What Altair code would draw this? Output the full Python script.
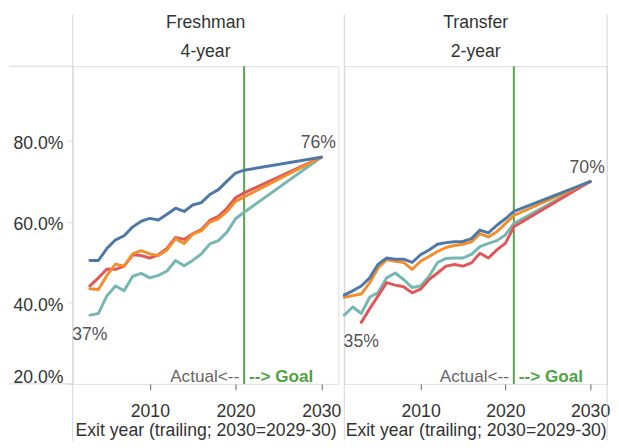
import altair as alt
import pandas as pd

FONT = "Liberation Sans"

# ---------------- data ----------------
series_names = ["Series A", "Series B", "Series C", "Series D"]   # drawn bottom -> top
series_colors = ["#76b7b2", "#e15759", "#f28e2b", "#4e79a7"]

# Freshman, 4-year (actual exit years)
fresh_years = [2003, 2004, 2005, 2006, 2007, 2008, 2009, 2010, 2011, 2012,
               2013, 2014, 2015, 2016, 2017, 2018, 2019, 2020, 2021]
fresh_teal = [0.370, 0.374, 0.418, 0.442, 0.430, 0.466, 0.473, 0.462, 0.468, 0.479,
              0.505, 0.492, 0.505, 0.521, 0.546, 0.554, 0.575, 0.608, 0.624]
fresh_red = [0.442, 0.462, 0.484, 0.483, 0.491, 0.519, 0.517, 0.511, 0.519, 0.535,
             0.562, 0.557, 0.571, 0.581, 0.604, 0.614, 0.634, 0.660, 0.672]
fresh_orange = [0.435, 0.433, 0.468, 0.496, 0.491, 0.521, 0.529, 0.521, 0.517, 0.531,
                0.559, 0.547, 0.570, 0.578, 0.600, 0.608, 0.626, 0.651, 0.662]
fresh_blue = [0.505, 0.505, 0.535, 0.556, 0.566, 0.588, 0.602, 0.609, 0.605, 0.619,
              0.634, 0.626, 0.642, 0.648, 0.668, 0.680, 0.701, 0.721, 0.728]
fresh_goal = 0.76

# Transfer, 2-year
transfer_years = [2001, 2002, 2003, 2004, 2005, 2006, 2007, 2008, 2009, 2010, 2011,
                  2012, 2013, 2014, 2015, 2016, 2017, 2018, 2019, 2020, 2021]
transfer_red_years = [2003, 2004, 2005, 2006, 2007, 2008, 2009, 2010, 2011, 2012,
                      2013, 2014, 2015, 2016, 2017, 2018, 2019, 2020, 2021]
transfer_teal = [0.370, 0.390, 0.374, 0.414, 0.426, 0.462, 0.474, 0.458, 0.438, 0.442, 0.466,
                 0.500, 0.510, 0.511, 0.511, 0.520, 0.539, 0.547, 0.554, 0.568, 0.596]
transfer_red = [0.352, 0.386, 0.418, 0.450, 0.444, 0.440, 0.425, 0.434, 0.458, 0.474,
                0.491, 0.495, 0.491, 0.499, 0.523, 0.511, 0.531, 0.547, 0.588]
transfer_orange = [0.414, 0.418, 0.422, 0.450, 0.487, 0.507, 0.503, 0.500, 0.483, 0.503, 0.515,
                   0.527, 0.537, 0.542, 0.545, 0.551, 0.571, 0.563, 0.576, 0.596, 0.616]
transfer_blue = [0.420, 0.430, 0.442, 0.462, 0.496, 0.511, 0.508, 0.508, 0.500, 0.519, 0.531,
                 0.545, 0.549, 0.551, 0.552, 0.559, 0.580, 0.573, 0.592, 0.608, 0.626]
transfer_goal = 0.70

goal_year = 2030
split_year = 2021
x_ticks = [2010, 2020, 2030]
y_ticks = [0.2, 0.4, 0.6, 0.8]
x_title = "Exit year (trailing; 2030=2029-30)"
annot_y = 0.217

fresh_min = {"year": [2003], "rate": [0.370], "label": ["37%"]}
fresh_max = {"year": [2030], "rate": [0.760], "label": ["76%"]}
transfer_min = {"year": [2003], "rate": [0.352], "label": ["35%"]}
transfer_max = {"year": [2030], "rate": [0.700], "label": ["70%"]}

# ---------------- layout ----------------
W_L, W_R, H = 271, 268, 324
HEAD, FOOT, YAX = 58, 58, 65
RULE_TOP = HEAD - 5
TITLE_GAP = 5
TOP_PAD = 1
X_DOMAIN = [2001, 2032]
Y_DOMAIN = [0.2, 0.985]
GREEN = "#59a14f"
BORDER = "#d4d4d4"
FS = 18


def make_df(years_list, values_list, goal_value):
    rows = []
    for name, yrs, vals in zip(series_names, years_list, values_list):
        for yr, v in zip(yrs, vals):
            rows.append({"series": name, "year": yr, "rate": v})
        rows.append({"series": name, "year": goal_year, "rate": goal_value})
    return pd.DataFrame(rows)


def panel(df, title_lines, width, min_lab, max_lab, first):
    xenc = alt.X(
        "year:Q",
        scale=alt.Scale(domain=X_DOMAIN, nice=False, zero=False),
        axis=alt.Axis(values=x_ticks, format="d", title=x_title, domain=False, grid=False,
                      tickColor="#666", tickSize=6, labelPadding=13, labelFontSize=FS,
                      labelFont=FONT, labelColor="#333", titleFont=FONT, titleFontSize=FS,
                      titleFontWeight="normal", titleColor="#333", titlePadding=2),
    )
    if first:
        yaxis = alt.Axis(values=y_ticks, format=".1%", title=None, domain=False, grid=False,
                         tickColor="#dddddd", tickSize=6, labelPadding=4, labelFontSize=FS,
                         labelFont=FONT, labelColor="#333", labelFlush=True, labelOffset=3,
                         minExtent=YAX, maxExtent=YAX)
    else:
        yaxis = None
    yenc = alt.Y("rate:Q", scale=alt.Scale(domain=Y_DOMAIN, nice=False, zero=False), axis=yaxis)

    lines = alt.Chart(df).mark_line(strokeWidth=3, strokeJoin="round", strokeCap="round").encode(
        x=xenc, y=yenc,
        color=alt.Color("series:N", scale=alt.Scale(domain=series_names, range=series_colors),
                        legend=None),
    )
    split = alt.Chart(pd.DataFrame({"year": [split_year]})).mark_rule(
        color=GREEN, strokeWidth=2).encode(x=xenc)
    annot = pd.DataFrame({"year": [split_year], "rate": [annot_y]})
    actual = alt.Chart(annot).mark_text(
        text="Actual<--", align="right", baseline="middle", dx=-5, font=FONT, fontSize=17.5,
        color="#666").encode(x=xenc, y=yenc)
    goal = alt.Chart(annot).mark_text(
        text="--> Goal", align="left", baseline="middle", dx=5, font=FONT, fontSize=17.5,
        fontWeight="bold", color="#4ea342").encode(x=xenc, y=yenc)
    lab_min = alt.Chart(pd.DataFrame(min_lab)).mark_text(
        align="center", baseline="middle", dy=20, font=FONT, fontSize=FS, color="#555").encode(
        x=xenc, y=yenc, text="label:N")
    lab_max = alt.Chart(pd.DataFrame(max_lab)).mark_text(
        align="center", baseline="middle", dx=-3, dy=-14, font=FONT, fontSize=FS,
        color="#555").encode(x=xenc, y=yenc, text="label:N")

    one = pd.DataFrame({"k": [0]})
    frame = [
        alt.Chart(one).mark_rule(color=BORDER, strokeWidth=1).encode(
            x=alt.value(0), y=alt.value(-RULE_TOP), y2=alt.value(H + FOOT)),
    ]
    if first:
        frame += [
            alt.Chart(one).mark_rule(color=BORDER, strokeWidth=1).encode(
                x=alt.value(-YAX), x2=alt.value(0), y=alt.value(0)),
            alt.Chart(one).mark_rule(color=BORDER, strokeWidth=1).encode(
                x=alt.value(-YAX), x2=alt.value(0), y=alt.value(H)),
        ]
    else:
        frame += [
            alt.Chart(one).mark_rule(color=BORDER, strokeWidth=1).encode(
                x=alt.value(width), y=alt.value(-RULE_TOP), y2=alt.value(H + FOOT)),
        ]

    return alt.layer(*frame, split, lines, actual, goal, lab_min, lab_max).properties(
        width=width, height=H,
        title=alt.TitleParams(title_lines, fontSize=FS, font=FONT, fontWeight="normal",
                              color="#333", lineHeight=29, anchor="middle",
                              offset=TITLE_GAP - RULE_TOP),
    )


fresh_df = make_df([fresh_years] * 4, [fresh_teal, fresh_red, fresh_orange, fresh_blue], fresh_goal)
transfer_df = make_df([transfer_years, transfer_red_years, transfer_years, transfer_years],
                      [transfer_teal, transfer_red, transfer_orange, transfer_blue], transfer_goal)

left = panel(fresh_df, ["Freshman", "4-year"], W_L, fresh_min, fresh_max, True)
right = panel(transfer_df, ["Transfer", "2-year"], W_R, transfer_min, transfer_max, False)

chart = alt.hconcat(left, right, spacing=0).properties(
    padding={"left": 0, "top": TOP_PAD, "right": 0, "bottom": 0}
).configure_view(stroke=BORDER, strokeWidth=1).configure(background="white")

chart.save("out.html", embed_options={"renderer": "svg", "actions": False})
